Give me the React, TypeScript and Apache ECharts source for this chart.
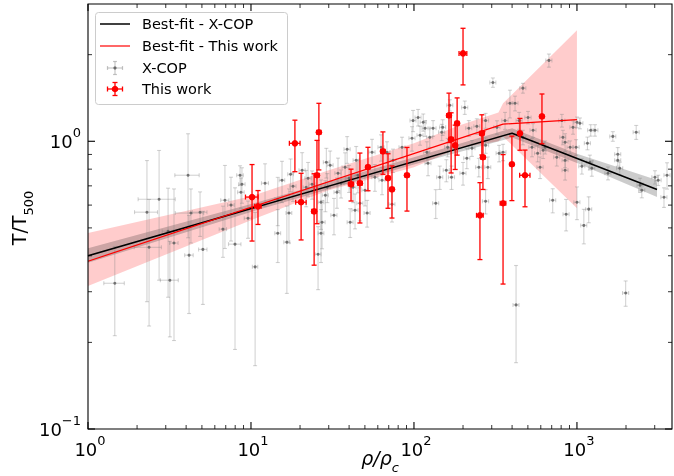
import React, { useEffect, useRef } from "react";
import * as echarts from "echarts";

const X_MIN = 1;
const X_MAX = 3830;
const Y_MIN = 0.1;
const Y_MAX = 3.0;

// X-COP: [x, y, yErr, xErr]
const xcop: number[][] = [
  [1.46, 0.321, 0.11, 0.21], [2.30, 0.567, 0.29, 0.37], [2.37, 0.428, 0.20, 0.45], [2.73, 0.629, 0.30, 0.70],
  [3.10, 0.487, 0.20, 0.25], [3.18, 0.329, 0.12, 0.40], [3.37, 0.443, 0.24, 0.20], [4.11, 0.762, 0.30, 0.70],
  [4.17, 0.402, 0.15, 0.25], [4.28, 0.563, 0.12, 0.85], [4.87, 0.567, 0.10, 0.50], [5.07, 0.421, 0.15, 0.30],
  [6.73, 0.495, 0.10, 0.35], [6.92, 0.624, 0.20, 0.40], [7.54, 0.600, 0.15, 0.35], [7.98, 0.439, 0.25, 0.70],
  [8.57, 0.762, 0.06, 0.40], [8.68, 0.665, 0.08, 0.40], [8.80, 0.709, 0.10, 0.40], [9.59, 0.540, 0.08, 0.50],
  [10.6, 0.366, 0.20, 0.40], [12.2, 0.715, 0.12, 0.60], [14.6, 0.629, 0.12, 0.60], [14.6, 0.479, 0.10, 0.60],
  [15.5, 0.732, 0.12, 0.60], [16.6, 0.446, 0.15, 0.70], [17.1, 0.563, 0.12, 0.70], [17.5, 0.768, 0.10, 0.70],
  [18.1, 0.698, 0.08, 0.80], [20.6, 0.793, 0.12, 0.90], [21.8, 0.692, 0.10, 0.90], [22.4, 0.744, 0.10, 1.0],
  [23.7, 0.709, 0.08, 1.0], [25.8, 0.405, 0.10, 1.1], [26.9, 0.614, 0.12, 1.1], [26.9, 0.479, 0.10, 1.1],
  [27.3, 0.523, 0.10, 1.2], [28.6, 0.649, 0.08, 1.2], [29.0, 0.845, 0.10, 1.2], [29.4, 0.692, 0.08, 1.2],
  [30.6, 0.825, 0.10, 1.3], [32.3, 0.553, 0.08, 1.4], [33.7, 0.665, 0.08, 1.4], [34.2, 0.774, 0.10, 1.5],
  [35.7, 0.715, 0.08, 1.5], [37.8, 0.812, 0.10, 1.6], [38.9, 0.938, 0.10, 1.7], [40.0, 0.744, 0.08, 1.7],
  [40.6, 0.523, 0.06, 1.7], [42.3, 0.692, 0.08, 1.8], [43.5, 0.576, 0.08, 1.9], [44.2, 0.859, 0.10, 1.9],
  [45.3, 0.762, 0.10, 1.9], [46.6, 0.609, 0.08, 2.0], [50.1, 0.676, 0.08, 2.2], [51.6, 0.563, 0.06, 2.2],
  [55.3, 0.916, 0.10, 2.4], [57.6, 0.750, 0.08, 2.5], [62.8, 0.953, 0.10, 2.7], [63.7, 0.732, 0.08, 2.7],
  [68.3, 0.916, 0.08, 2.9], [73.3, 0.604, 0.08, 3.1], [74.4, 0.859, 0.08, 3.2], [84.5, 0.953, 0.08, 3.6],
  [97.3, 1.024, 0.10, 4.2], [98.7, 1.180, 0.10, 4.2], [106, 1.210, 0.08, 4.5], [109, 1.049, 0.08, 4.7],
  [114, 1.164, 0.08, 4.9], [117, 1.110, 0.07, 5.0], [120, 0.916, 0.08, 5.2], [122, 0.839, 0.08, 5.2],
  [125, 1.032, 0.08, 5.4], [131, 1.110, 0.07, 5.6], [136, 0.609, 0.07, 5.8], [144, 0.750, 0.07, 6.2],
  [148, 1.075, 0.07, 6.4], [150, 1.118, 0.07, 6.5], [158, 0.793, 0.07, 6.8], [161, 0.953, 0.07, 6.9],
  [166, 1.334, 0.06, 7.1], [170, 0.750, 0.07, 7.3], [200, 0.774, 0.07, 8.6], [205, 1.310, 0.07, 8.8],
  [211, 0.873, 0.07, 9.1], [217, 1.110, 0.07, 9.3], [227, 0.946, 0.06, 9.8], [243, 1.127, 0.07, 10],
  [250, 0.812, 0.06, 11], [275, 1.180, 0.07, 12], [275, 0.968, 0.06, 12], [284, 0.812, 0.07, 12],
  [275, 0.619, 0.06, 12], [305, 1.600, 0.06, 13], [323, 1.118, 0.06, 14], [333, 0.908, 0.06, 14],
  [352, 0.916, 0.06, 15], [362, 1.180, 0.08, 16], [388, 1.355, 0.15, 17], [417, 1.355, 0.08, 18],
  [423, 0.270, 0.10, 18], [442, 1.180, 0.08, 19], [466, 1.530, 0.06, 20], [466, 1.032, 0.06, 20],
  [501, 1.210, 0.06, 22], [530, 0.953, 0.07, 23], [538, 1.092, 0.06, 23], [574, 0.908, 0.06, 25],
  [594, 0.812, 0.07, 26], [620, 0.931, 0.06, 27], [638, 0.953, 0.05, 27], [673, 1.910, 0.10, 29],
  [710, 0.624, 0.06, 31], [752, 0.880, 0.06, 32], [808, 1.180, 0.06, 35], [820, 1.032, 0.06, 35],
  [846, 0.793, 0.06, 36], [858, 0.558, 0.07, 37], [846, 0.992, 0.07, 36], [846, 0.859, 0.05, 36],
  [908, 0.953, 0.05, 39], [946, 1.118, 0.06, 41], [988, 0.953, 0.06, 43], [1000, 1.164, 0.05, 43],
  [1000, 0.614, 0.08, 43], [1043, 1.155, 0.05, 45], [1072, 0.819, 0.05, 46], [1102, 0.510, 0.07, 47],
  [1160, 0.984, 0.05, 50], [1181, 0.581, 0.06, 51], [1215, 1.092, 0.05, 52], [1290, 1.092, 0.05, 55],
  [1200, 0.845, 0.05, 52], [1234, 0.806, 0.05, 53], [1550, 0.774, 0.04, 67], [1660, 1.040, 0.04, 71],
  [1780, 0.901, 0.05, 77], [1780, 0.859, 0.04, 77], [1830, 0.806, 0.04, 79], [1990, 0.297, 0.03, 86],
  [2310, 1.075, 0.06, 99], [2440, 0.704, 0.04, 105], [2500, 0.676, 0.04, 108], [3010, 0.750, 0.04, 130],
  [3150, 0.732, 0.03, 135], [3420, 0.639, 0.05, 147], [3570, 0.762, 0.08, 153],
];

// This work: [x, y, yErr, xErr]
const thisWork: number[][] = [
  [200, 2.02, 0.45, 11], [164, 1.23, 0.24, 5], [184, 1.155, 0.26, 5], [169, 1.016, 0.24, 5],
  [179, 0.968, 0.17, 5], [261, 1.066, 0.17, 8], [265, 0.88, 0.20, 8], [254, 0.553, 0.165, 12],
  [352, 0.609, 0.29, 14], [399, 0.832, 0.21, 10], [447, 1.066, 0.135, 10], [480, 0.762, 0.17, 35],
  [610, 1.22, 0.24, 15], [64.5, 0.923, 0.155, 2], [69.3, 0.745, 0.16, 2], [73.3, 0.681, 0.14, 2],
  [90.6, 0.762, 0.19, 2.5], [18.6, 0.984, 0.20, 1.4], [26.1, 1.075, 0.28, 0.8], [25.4, 0.762, 0.245, 0.8],
  [24.4, 0.571, 0.20, 0.8], [20.3, 0.614, 0.16, 1.5], [10.15, 0.64, 0.19, 0.9], [11.04, 0.594, 0.08, 0.5],
  [41.1, 0.71, 0.09, 1.5], [46.6, 0.715, 0.195, 1.5], [52.2, 0.813, 0.14, 1.5],
];

// Best-fit lines
const fitXcopX = [1, 400, 3100];
const fitXcopY = [0.40, 1.067, 0.68];
const fitThisX = [1, 352, 1000];
const fitThisY = [0.383, 1.147, 1.19];

// Confidence bands
const bandThisX = [1, 10, 30, 100, 191, 330, 352, 1000];
const bandThisHi = [0.48, 0.644, 0.793, 0.984, 1.137, 1.26, 1.355, 2.43];
const bandThisLo = [0.314, 0.532, 0.676, 0.812, 0.95, 1.0, 1.04, 0.585];
const bandXcopX = [1, 10, 100, 400, 1000, 3100];
const bandXcopHi = [0.425, 0.605, 0.88, 1.11, 0.905, 0.733];
const bandXcopLo = [0.378, 0.568, 0.83, 1.03, 0.84, 0.64];

// Ticks
const xMajor = [1, 10, 100, 1000];
const xMajorExp = ["0", "1", "2", "3"];
const xMinor = [2, 3, 4, 5, 6, 7, 8, 9, 20, 30, 40, 50, 60, 70, 80, 90, 200, 300, 400, 500, 600, 700, 800, 900, 2000, 3000];
const yMajor = [0.1, 1];
const yMajorExp = ["\u22121", "0"];
const yMinor = [0.2, 0.3, 0.4, 0.5, 0.6, 0.7, 0.8, 0.9, 2];

const FONT = "DejaVu Sans";

function errRows(rows: number[][]) {
  return rows.map(([x, y, ey, ex]) => [x, y, x - ex, x + ex, Math.max(y - ey, 0.01), y + ey]);
}

function makeErrRender(color: string, barW: number, cap: number, dotR: number, dotColor: string) {
  return (params: any, api: any) => {
    const c = api.coord([api.value(0), api.value(1)]);
    const xl = api.coord([api.value(2), api.value(1)]);
    const xh = api.coord([api.value(3), api.value(1)]);
    const yl = api.coord([api.value(0), api.value(4)]);
    const yh = api.coord([api.value(0), api.value(5)]);
    const st = { stroke: color, lineWidth: barW };
    const children: any[] = [
      { type: "line", shape: { x1: c[0], y1: yl[1], x2: c[0], y2: yh[1] }, style: st },
      { type: "line", shape: { x1: xl[0], y1: c[1], x2: xh[0], y2: c[1] }, style: st },
      { type: "line", shape: { x1: c[0] - cap, y1: yl[1], x2: c[0] + cap, y2: yl[1] }, style: st },
      { type: "line", shape: { x1: c[0] - cap, y1: yh[1], x2: c[0] + cap, y2: yh[1] }, style: st },
      { type: "line", shape: { x1: xl[0], y1: c[1] - cap, x2: xl[0], y2: c[1] + cap }, style: st },
      { type: "line", shape: { x1: xh[0], y1: c[1] - cap, x2: xh[0], y2: c[1] + cap }, style: st },
      { type: "circle", shape: { cx: c[0], cy: c[1], r: dotR }, style: { fill: dotColor } },
    ];
    return { type: "group", children };
  };
}

function makeBandRender(xs: number[], hi: number[], lo: number[], fill: string) {
  return (params: any, api: any) => {
    const pts: number[][] = [];
    xs.forEach((x, i) => pts.push(api.coord([x, hi[i]])));
    for (let i = xs.length - 1; i >= 0; i--) pts.push(api.coord([xs[i], lo[i]]));
    return { type: "polygon", shape: { points: pts }, style: { fill } };
  };
}

const rich = {
  b: { fontSize: 18, fontFamily: FONT, fill: "#000", verticalAlign: "bottom", lineHeight: 24 },
  s: { fontSize: 13, fontFamily: FONT, fill: "#000", verticalAlign: "top", lineHeight: 24 },
};

function frameRender(params: any, api: any) {
  const cs = params.coordSys;
  const L = cs.x, T = cs.y, R = cs.x + cs.width, B = cs.y + cs.height;
  const ch: any[] = [];
  ch.push({ type: "rect", shape: { x: L, y: T, width: R - L, height: B - T }, style: { fill: "none", stroke: "#000", lineWidth: 1.1 } });
  const tick = (x1: number, y1: number, x2: number, y2: number, w: number) =>
    ch.push({ type: "line", shape: { x1, y1, x2, y2 }, style: { stroke: "#000", lineWidth: w } });
  xMajor.forEach((v, i) => {
    const px = api.coord([v, Y_MIN])[0];
    tick(px, B, px, B - 7, 1.1);
    tick(px, T, px, T + 7, 1.1);
    ch.push({
      type: "text", x: px + 2, y: B + 5,
      style: { text: "{b|10}{s|" + xMajorExp[i] + "}", rich, align: "center", verticalAlign: "top" },
    });
  });
  xMinor.forEach((v) => {
    const px = api.coord([v, Y_MIN])[0];
    tick(px, B, px, B - 4, 0.8);
    tick(px, T, px, T + 4, 0.8);
  });
  yMajor.forEach((v, i) => {
    const py = api.coord([X_MIN, v])[1];
    tick(L, py, L + 7, py, 1.1);
    tick(R, py, R - 7, py, 1.1);
    ch.push({
      type: "text", x: L - 7, y: py - 3,
      style: { text: "{b|10}{s|" + yMajorExp[i] + "}", rich, align: "right", verticalAlign: "middle" },
    });
  });
  yMinor.forEach((v) => {
    const py = api.coord([X_MIN, v])[1];
    tick(L, py, L + 4, py, 0.8);
    tick(R, py, R - 4, py, 0.8);
  });
  return { type: "group", children: ch };
}

function legendGraphic() {
  const lx = 100, lx2 = 130, tx = 142;
  const rows = [24, 46, 68, 89];
  const txt = (y: number, s: string) => ({
    type: "text", left: tx, top: y - 8,
    style: { text: s, fontSize: 14.5, fontFamily: FONT, fill: "#000" },
  });
  const cross = (cy: number, color: string, w: number, cap: number, r: number, dot: string) => {
    const cx = 115;
    const st = { stroke: color, lineWidth: w };
    return [
      { type: "line", shape: { x1: cx - 7.5, y1: cy, x2: cx + 7.5, y2: cy }, style: st },
      { type: "line", shape: { x1: cx, y1: cy - 6.5, x2: cx, y2: cy + 6.5 }, style: st },
      { type: "line", shape: { x1: cx - 7.5, y1: cy - cap, x2: cx - 7.5, y2: cy + cap }, style: st },
      { type: "line", shape: { x1: cx + 7.5, y1: cy - cap, x2: cx + 7.5, y2: cy + cap }, style: st },
      { type: "line", shape: { x1: cx - cap, y1: cy - 6.5, x2: cx + cap, y2: cy - 6.5 }, style: st },
      { type: "line", shape: { x1: cx - cap, y1: cy + 6.5, x2: cx + cap, y2: cy + 6.5 }, style: st },
      { type: "circle", shape: { cx, cy, r }, style: { fill: dot } },
    ];
  };
  return {
    type: "group",
    z: 100,
    children: [
      { type: "rect", shape: { x: 95.5, y: 12.5, width: 192, height: 92, r: 3 }, style: { fill: "rgba(255,255,255,0.85)", stroke: "#cccccc", lineWidth: 1 } },
      { type: "line", shape: { x1: lx, y1: rows[0], x2: lx2, y2: rows[0] }, style: { stroke: "#000", lineWidth: 1.5 } },
      txt(rows[0], "Best-fit - X-COP"),
      { type: "line", shape: { x1: lx, y1: rows[1], x2: lx2, y2: rows[1] }, style: { stroke: "#ff0000", lineWidth: 1.2 } },
      txt(rows[1], "Best-fit - This work"),
      ...cross(rows[2], "rgba(128,128,128,0.45)", 1.2, 2, 1.6, "rgba(90,90,90,0.85)"),
      txt(rows[2], "X-COP"),
      ...cross(rows[3], "#ff0000", 1.3, 2.5, 3.3, "#ff0000"),
      txt(rows[3], "This work"),
    ],
  };
}

export default function App() {
  const ref = useRef<HTMLDivElement>(null);
  useEffect(() => {
    if (!ref.current) return;
    const chart = echarts.init(ref.current, undefined, { renderer: "svg" });
    const hiddenAxis = {
      type: "log" as const,
      logBase: 10,
      axisLine: { show: false },
      axisTick: { show: false },
      axisLabel: { show: false },
      splitLine: { show: false },
      minorTick: { show: false },
    };
    chart.setOption({
      animation: false,
      grid: { left: 88, right: 2, top: 4, bottom: 47, containLabel: false },
      xAxis: { ...hiddenAxis, min: X_MIN, max: X_MAX },
      yAxis: { ...hiddenAxis, min: Y_MIN, max: Y_MAX },
      series: [
        {
          type: "custom", z: 1, silent: true, clip: true,
          data: [[1, 1]], encode: { x: 0, y: 1 },
          renderItem: makeBandRender(bandThisX, bandThisHi, bandThisLo, "rgba(255,0,0,0.2)"),
        },
        {
          type: "custom", z: 2, silent: true, clip: true,
          data: [[1, 1]], encode: { x: 0, y: 1 },
          renderItem: makeBandRender(bandXcopX, bandXcopHi, bandXcopLo, "rgba(0,0,0,0.2)"),
        },
        {
          type: "custom", z: 3, silent: true, clip: true,
          data: errRows(xcop), encode: { x: 0, y: 1 },
          renderItem: makeErrRender("rgba(128,128,128,0.35)", 1.1, 2, 1.5, "rgba(90,90,90,0.8)"),
        },
        {
          type: "line", z: 4, silent: true, symbol: "none",
          data: fitXcopX.map((x, i) => [x, fitXcopY[i]]),
          lineStyle: { color: "#000", width: 1.6 },
        },
        {
          type: "line", z: 5, silent: true, symbol: "none",
          data: fitThisX.map((x, i) => [x, fitThisY[i]]),
          lineStyle: { color: "#ff0000", width: 1.2 },
        },
        {
          type: "custom", z: 6, silent: true, clip: true,
          data: errRows(thisWork), encode: { x: 0, y: 1 },
          renderItem: makeErrRender("#ff0000", 1.3, 2.5, 3.3, "#ff0000"),
        },
        {
          type: "custom", z: 10, silent: true, clip: false,
          data: [[1, 1]], encode: { x: 0, y: 1 },
          renderItem: frameRender,
        },
      ],
      graphic: [
        legendGraphic(),
        {
          type: "text", x: 22, y: 218, rotation: Math.PI / 2,
          style: {
            text: "{b|T/T}{s|500}",
            align: "center", verticalAlign: "middle",
            rich: {
              b: { fontSize: 19, fontFamily: FONT, fill: "#000", verticalAlign: "top", lineHeight: 26 },
              s: { fontSize: 13, fontFamily: FONT, fill: "#000", verticalAlign: "bottom", lineHeight: 26 },
            },
          },
        },
        {
          type: "text", x: 380, y: 461,
          style: {
            text: "{b|\u03C1/\u03C1}{s|c}",
            align: "center", verticalAlign: "middle",
            rich: {
              b: { fontSize: 19, fontFamily: FONT, fontStyle: "italic", fill: "#000", verticalAlign: "top", lineHeight: 26 },
              s: { fontSize: 13, fontFamily: FONT, fontStyle: "italic", fill: "#000", verticalAlign: "bottom", lineHeight: 26 },
            },
          },
        },
      ],
    });
    return () => chart.dispose();
  }, []);
  return <div ref={ref} style={{ position: "fixed", left: 0, top: 0, width: 674, height: 476 }} />;
}
